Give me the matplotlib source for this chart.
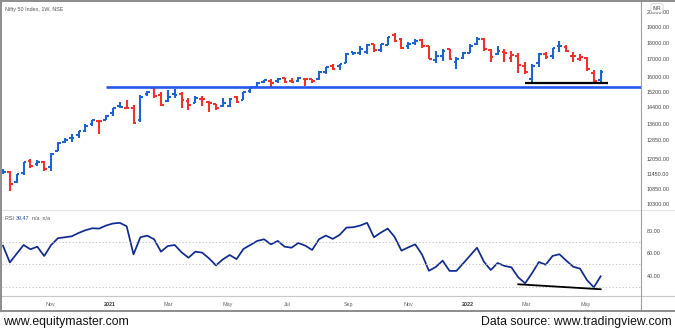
import numpy as np
import pandas as pd
import matplotlib
matplotlib.use("Agg")
import matplotlib.pyplot as plt
import matplotlib.dates as mdates
from matplotlib.lines import Line2D
from matplotlib.ticker import FixedLocator, NullLocator

plt.rcParams['font.family'] = ['Liberation Sans', 'DejaVu Sans']

W, H = 675, 332

# weekly Nifty 50 bars
weeks = pd.date_range("2020-09-14", periods=88, freq="W-MON")
opens = [11540, 11503, 11140, 11487, 11973, 11834, 11937, 11697, 12399, 12781,
         12960, 13062, 13264, 13597, 13741, 13789, 14104, 14474, 14371, 14365,
         13758, 15064, 15371, 15000, 14702, 15064, 15100, 14736, 14628, 14837,
         14644, 14538, 14449, 14481, 14928, 14756, 15211, 15438, 15725, 15791,
         15746, 15915, 15794, 15766, 15877, 15853, 15874, 16258, 16600, 16592,
         16775, 17400, 17363, 17443, 17932, 17531, 17867, 18500, 18230, 17783,
         17967, 18141, 17796, 16929, 17209, 17619, 16824, 17046, 17387, 17913,
         18235, 17575, 17301, 17456, 17076, 17193, 16593, 15867, 16757, 17329,
         17182, 17810, 17740, 17183, 17009, 17096, 16227, 15845]
highs = [11618, 11535, 11428, 11938, 12025, 12019, 11955, 12290, 12769, 12963,
         13145, 13280, 13579, 13773, 13777, 14024, 14367, 14653, 14753, 14491,
         15014, 15257, 15432, 15176, 15274, 15336, 15180, 14878, 14984, 14984,
         14696, 14540, 14890, 14864, 14966, 15189, 15469, 15733, 15835, 15901,
         15915, 15915, 15915, 15962, 15881, 15899, 16349, 16543, 16701, 16722,
         17340, 17436, 17793, 17947, 17943, 17948, 18350, 18604, 18310, 18012,
         18210, 18210, 17805, 17489, 17639, 17640, 17118, 17400, 17944, 18350,
         18309, 17599, 17794, 17640, 17490, 17351, 16816, 16694, 17344, 17442,
         17681, 18115, 17842, 17414, 17322, 17133, 16404, 16400]
lows = [11435, 10790, 11098, 11387, 11661, 11770, 11535, 11557, 12367, 12730,
        12790, 12962, 13230, 13501, 13131, 13789, 13954, 14357, 14350, 13597,
        13661, 14977, 14856, 14467, 14650, 14862, 14350, 14264, 14616, 14459,
        14151, 14273, 14416, 14416, 14591, 14756, 15128, 15450, 15678, 15450,
        15673, 15636, 15635, 15709, 15513, 15635, 15834, 16162, 16395, 16395,
        16764, 17254, 17269, 17327, 17452, 17452, 17865, 18034, 17613, 17600,
        17836, 17688, 17026, 16782, 16891, 16966, 16410, 17000, 17383, 17879,
        17485, 16837, 17244, 16809, 16843, 16203, 16133, 15671, 16555, 17006,
        17006, 17422, 17442, 16824, 16889, 16340, 15736, 15671]
closes = [11505, 11050, 11417, 11914, 11762, 11930, 11642, 12264, 12720, 12860,
          12969, 13258, 13513, 13761, 13749, 13982, 14347, 14433, 14372, 13635,
          14924, 15163, 14982, 14529, 14938, 15031, 14744, 14507, 14867, 14835,
          14617, 14341, 14631, 14823, 14677, 15175, 15436, 15670, 15799, 15683,
          15860, 15722, 15690, 15923, 15856, 15763, 16238, 16529, 16450, 16705,
          17324, 17369, 17585, 17853, 17532, 17895, 18339, 18115, 17672, 17917,
          18102, 17765, 17026, 17196, 17511, 16985, 17004, 17354, 17812, 18256,
          17617, 17102, 17517, 17375, 17276, 16658, 16245, 16630, 17287, 17153,
          17670, 17784, 17476, 17172, 17102, 16411, 15782, 16266]
prior_close = 11464

rsi = [66.7, 51.8, 59.6, 67.3, 63.5, 65.8, 57.5, 67.3, 73.3, 74.2,
       75.0, 78.0, 80.4, 82.2, 81.9, 84.6, 86.4, 87.0, 84.0, 59.0,
       74.2, 75.6, 72.4, 61.4, 66.4, 67.3, 60.8, 56.0, 61.4, 60.5,
       55.4, 49.2, 54.5, 58.4, 54.8, 63.8, 67.3, 70.9, 72.4, 67.9,
       70.9, 65.8, 64.9, 69.1, 66.7, 62.9, 72.4, 75.7, 72.7, 76.3,
       82.8, 83.1, 84.6, 87.0, 74.2, 78.3, 81.9, 74.5, 62.3, 65.2,
       67.9, 58.8, 44.4, 47.8, 53.4, 44.3, 44.3, 51.0, 58.0, 64.9,
       52.5, 45.1, 51.3, 48.7, 47.5, 38.6, 33.3, 42.2, 52.2, 49.8,
       57.6, 59.1, 53.4, 48.0, 46.3, 36.2, 29.7, 39.47]

support_level = 15430
support_from = "2020-12-28"
bottom_level = 15650
bottom_span = ("2022-02-28", "2022-05-23")
rsi_trend_dates = ("2022-02-21", "2022-05-16")
rsi_trend_values = (32.4, 28.0)

price_ticks = [10300, 10850, 11450, 12050, 12850, 13600, 14400, 15200,
               16000, 17000, 18000, 19000, 20000]
rsi_ticks = [40, 60, 80]
rsi_levels = [30, 50, 70]
month_ticks = ["2020-11-01", "2021-01-01", "2021-03-01", "2021-05-01", "2021-07-01",
               "2021-09-01", "2021-11-01", "2022-01-01", "2022-03-01", "2022-05-01"]
month_labels = ["Nov", "2021", "Mar", "May", "Jul", "Sep", "Nov", "2022", "Mar", "May"]

BLUE = "#1c64d4"
RED = "#f4302a"
GRID = "#b9b9b9"
LABEL = "#555555"


def box(x0, y0, x1, y1):
    # pixel box (top-left origin) -> figure fraction rect
    return [x0 / W, 1 - y1 / H, (x1 - x0) / W, (y1 - y0) / H]


def fig_line(fig, x0, y0, x1, y1, **kw):
    fig.add_artist(Line2D([x0 / W, x1 / W], [1 - y0 / H, 1 - y1 / H],
                          transform=fig.transFigure, **kw))


fig = plt.figure(figsize=(W / 100, H / 100), dpi=100)
ax = fig.add_axes(box(2, 2, 641, 210))
ax_rsi = fig.add_axes(box(2, 210, 641, 296), sharex=ax)

x = mdates.date2num(weeks)
day0 = x[0]
x_left = day0 - 1.0
x_right = day0 + 638 / 0.9814

# OHLC bars, coloured against the previous close
prev = np.r_[prior_close, closes[:-1]]
colors = np.where(np.array(closes) >= prev, BLUE, RED)
ax.vlines(x, lows, highs, colors=colors, lw=1.5)
ax.hlines(opens, x - 2.8, x, colors=colors, lw=1.5)
ax.hlines(closes, x, x + 2.8, colors=colors, lw=1.5)

ax.hlines(support_level, mdates.date2num(pd.Timestamp(support_from)), x_right,
          colors="#2457ee", lw=1.9)
ax.hlines(bottom_level, *mdates.date2num(pd.to_datetime(list(bottom_span))),
          colors="black", lw=1.6)

ax.set_yscale("log")
ax.set_ylim(10096, 20717)
ax.set_xlim(x_left, x_right)
ax.yaxis.set_major_locator(FixedLocator(price_ticks))
ax.yaxis.set_minor_locator(NullLocator())
ax.set_yticklabels([f"{v:.2f}" for v in price_ticks])
ax.yaxis.tick_right()
ax.tick_params(axis="y", length=0, pad=4, labelsize=3.9, labelcolor="#444444")
ax.tick_params(axis="x", length=0, labelbottom=False)
for s in ax.spines.values():
    s.set_visible(False)

# RSI panel
ax_rsi.plot(x, rsi, color="#0e2a93", lw=1.25)
for lvl in rsi_levels:
    ax_rsi.axhline(lvl, color=GRID, lw=0.6, ls=(0, (1.5, 2.5)))
ax_rsi.plot(mdates.date2num(pd.to_datetime(list(rsi_trend_dates))), rsi_trend_values,
            color="black", lw=1.3)
ax_rsi.set_ylim(22, 98.4)
ax_rsi.yaxis.set_major_locator(FixedLocator(rsi_ticks))
ax_rsi.set_yticklabels([f"{v:.2f}" for v in rsi_ticks])
ax_rsi.yaxis.tick_right()
ax_rsi.tick_params(axis="y", length=0, pad=4, labelsize=3.9, labelcolor="#444444")
ax_rsi.xaxis.set_major_locator(FixedLocator(mdates.date2num(pd.to_datetime(month_ticks))))
ax_rsi.set_xticklabels(month_labels)
ax_rsi.tick_params(axis="x", length=0, pad=4.5, labelsize=3.9, labelcolor="#666666")
for lbl in ax_rsi.get_xticklabels():
    if lbl.get_text().isdigit():
        lbl.set_color("#333333")
        lbl.set_fontweight("bold")
for s in ax_rsi.spines.values():
    s.set_visible(False)

# frame, panel separators and price scale line
fig_line(fig, 0, 210, 675, 210, color="#e4e4e4", lw=0.8)
fig_line(fig, 0, 296, 675, 296, color="#c8c8c8", lw=0.8)
fig_line(fig, 641, 0, 641, 311, color="#a0a0a0", lw=0.8)
fig_line(fig, 0.6, 0, 0.6, 311, color="#8c8c8c", lw=1.4)
fig_line(fig, 0, 0.6, 675, 0.6, color="#8c8c8c", lw=1.4)
fig_line(fig, 0, 311, 675, 311, color="#8c8c8c", lw=1.4)

fig.text(5 / W, 1 - 9 / H, "Nifty 50 Index, 1W, NSE", fontsize=3.9,
         color=LABEL, va="center", ha="left")
fig.text(657 / W, 1 - 8 / H, "INR", fontsize=3.6, color="#444444", va="center",
         ha="center", bbox=dict(boxstyle="round,pad=0.35", fc="white",
                                ec="#c8c8c8", lw=0.5))

t = fig.text(5 / W, 1 - 218 / H, "RSI ", fontsize=3.9, color=LABEL, va="center")
t2 = ax_rsi.annotate(f"{rsi[-1]:.2f}", xycoords=t, xy=(1, 0), va="bottom",
                     fontsize=3.9, color="#2a4fb0")
ax_rsi.annotate("  n/a  n/a", xycoords=t2, xy=(1, 0), va="bottom",
                fontsize=3.9, color=LABEL)

fig.text(3 / W, 1 - 322 / H, "www.equitymaster.com", fontsize=8.8,
         color="#111111", va="center", ha="left")
fig.text(672 / W, 1 - 322 / H, "Data source: www.tradingview.com", fontsize=8.8,
         color="#111111", va="center", ha="right")

fig.savefig("out.png", dpi=100)
plt.close(fig)
